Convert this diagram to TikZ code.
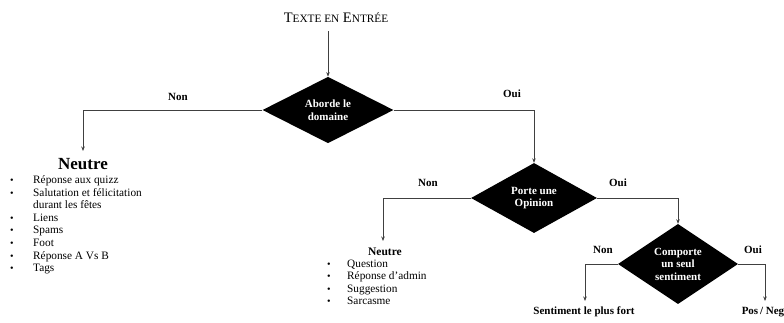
\documentclass[tikz,border=0pt]{standalone}
\usepackage{fontspec}
\setmainfont{Liberation Serif}
\usetikzlibrary{shapes.geometric,arrows.meta}

% hand-made small capitals
\newcommand{\petitcap}[1]{{\fontsize{11.3}{13}\selectfont #1}}
% list bullet
\newcommand{\puce}{{\fontsize{10}{10}\selectfont •}}

\tikzset{
  decision/.style={diamond, fill=black, draw=none, inner sep=0pt,
    text=white, font=\fontsize{11}{12.5}\selectfont\bfseries, align=center},
  flow/.style={draw=black!75, line width=0.6pt, -{Stealth[length=4.5pt,width=3.5pt]}},
  answer/.style={font=\fontsize{11}{12}\selectfont\bfseries, inner sep=0pt},
  outcome/.style={font=\fontsize{11}{12}\selectfont\bfseries, inner sep=0pt},
  bulletlist/.style={font=\fontsize{11.3}{12.6}\selectfont, inner sep=0pt, align=left}
}

\begin{document}
\begin{tikzpicture}[x=1pt,y=-1pt]
\useasboundingbox (0,0) rectangle (784,322);

% entry and first test
\node[font=\fontsize{14.5}{16}\selectfont, inner sep=0pt] (entree) at (336,18)
  {T\petitcap{EXTE EN} E\petitcap{NTRÉE}};
\node[decision, minimum width=131pt, minimum height=66pt] (d1) at (328,110) {Aborde le\\domaine};

% second and third tests
\node[decision, minimum width=126pt, minimum height=70pt] (d2) at (534,198) {Porte une\\Opinion};
\node[decision, minimum width=120pt, minimum height=66pt] (d3) at (678,264) {Comporte\\un seul\\sentiment};

% outcomes
\node[font=\fontsize{17}{19}\selectfont\bfseries, inner sep=0pt] (n1) at (83,164) {Neutre};
\node[bulletlist, anchor=north west] (l1) at (10,174.5) {%
  \begin{tabular}{@{}p{23pt}@{}l@{}}
  \puce & Réponse aux quizz\\
  \puce & Salutation et félicitation\\
        & durant les fêtes\\
  \puce & Liens\\
  \puce & Spams\\
  \puce & Foot\\
  \puce & Réponse A Vs B\\
  \puce & Tags
  \end{tabular}};

\node[font=\fontsize{11.5}{13}\selectfont\bfseries, inner sep=0pt] (n2) at (385,252) {Neutre};
\node[bulletlist, anchor=north west] (l2) at (327,258) {%
  \begin{tabular}{@{}p{20pt}@{}l@{}}
  \puce & Question\\
  \puce & Réponse d’admin\\
  \puce & Suggestion\\
  \puce & Sarcasme
  \end{tabular}};

\node[outcome] (fort) at (584,312) {Sentiment le plus fort};
\node[outcome] (posneg) at (763,312) {Pos\,/ Neg};

% free ends of the arrows
\coordinate (e1) at (83,151);
\coordinate (e2) at (383,241);
\coordinate (e3) at (585,301);
\coordinate (e4) at (765,301);
\coordinate (e0) at (328,31);

% connectors
\draw[flow] (e0) -- (d1.north);
\draw[flow] (d1.west) -| (e1);
\draw[flow] (d1.east) -| (d2.north);
\draw[flow] (d2.west) -| (e2);
\draw[flow] (d2.east) -| (d3.north);
\draw[flow] (d3.west) -| (e3);
\draw[flow] (d3.east) -| (e4);

% branch labels
\node[answer] (a1) at (178,97) {Non};
\node[answer] (a2) at (512,94) {Oui};
\node[answer] (a3) at (428,183) {Non};
\node[answer] (a4) at (618,183) {Oui};
\node[answer] (a5) at (603,250) {Non};
\node[answer] (a6) at (753,250) {Oui};
\end{tikzpicture}
\end{document}
